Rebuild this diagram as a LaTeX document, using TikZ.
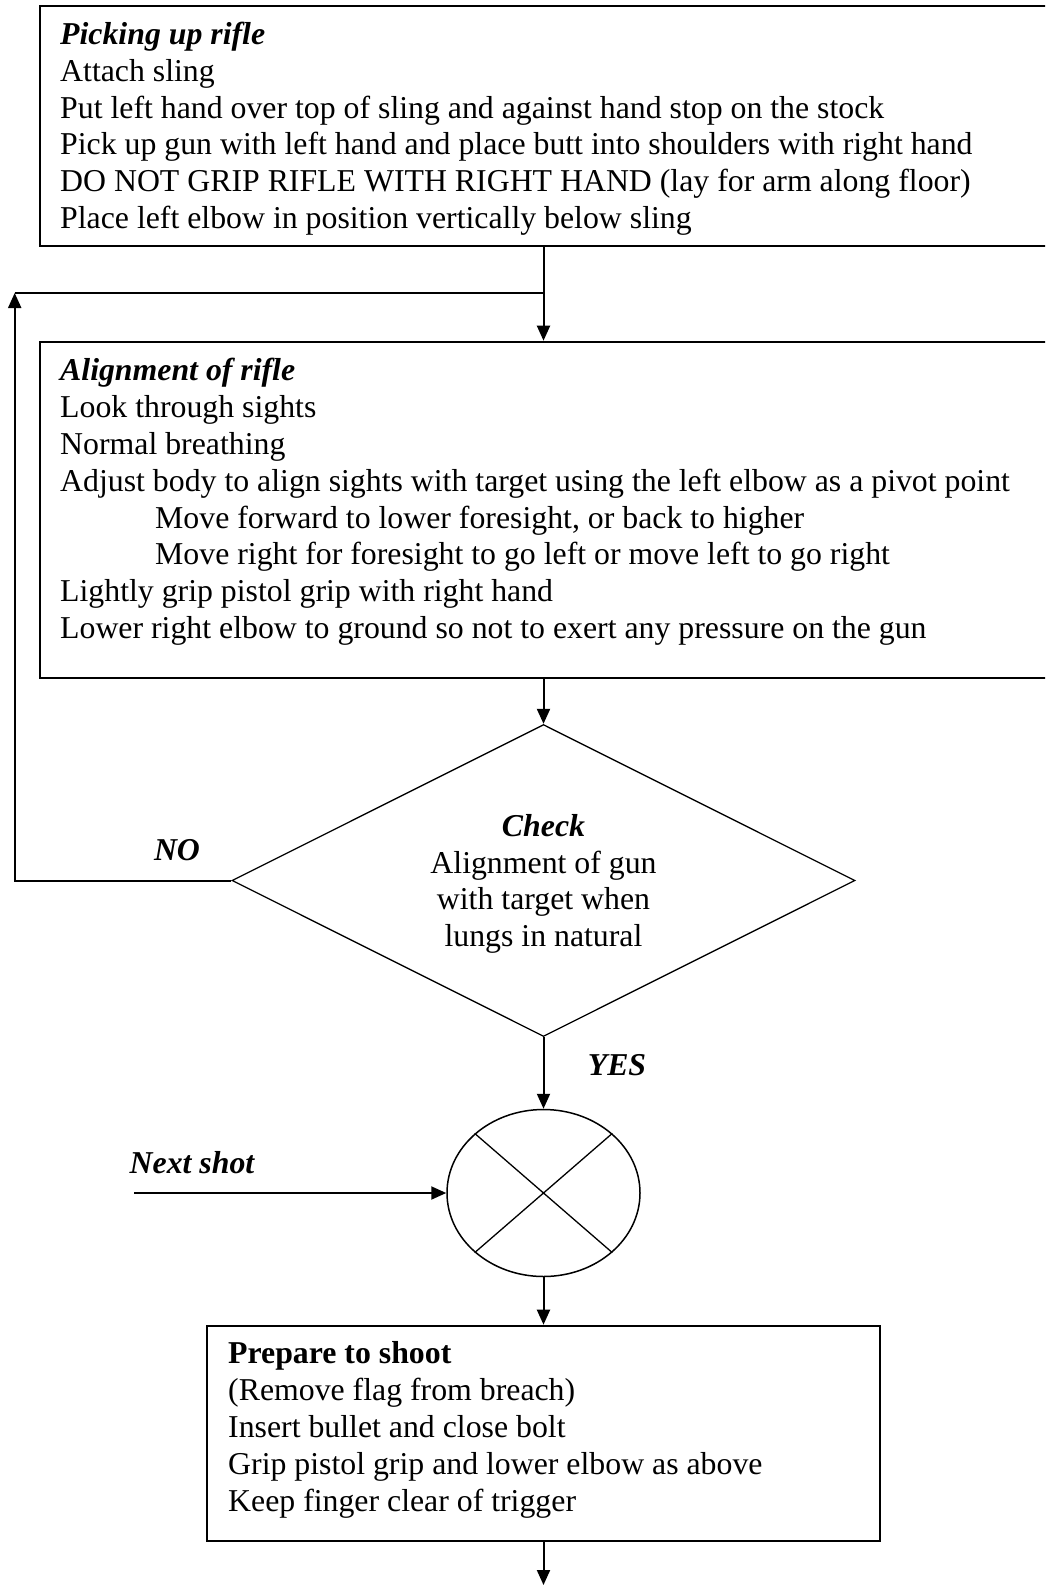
\documentclass[tikz,border=0pt]{standalone}
\usepackage{fontspec}
\setmainfont{Liberation Serif}
\usetikzlibrary{shapes.geometric,arrows.meta,positioning}

\tikzset{
  box/.style = {draw, line width=2pt, rectangle, inner sep=0pt},
  boxtext/.style = {anchor=base west, align=left, inner sep=0pt,
    font=\fontsize{31.8}{36.8}\selectfont},
  flow/.style = {line width=2pt, -{Triangle[length=15pt,width=13pt]}},
  plain/.style = {line width=2pt},
  tag/.style = {inner sep=0pt, font=\fontsize{31.8}{36.8}\selectfont\bfseries\itshape},
}

\begin{document}
\begin{tikzpicture}[x=1pt, y=-1pt]
  \clip (0,0) rectangle (1045,1589);

  % first step (text anchored on its last baseline)
  \node[box, anchor=north west, minimum width=1040, minimum height=240] (pick) at (39,5) {};
  \node[boxtext] (picktxt) at (60,228.5) {\textbf{\textit{Picking up rifle}}\\
    Attach sling\\
    Put left hand over top of sling and against hand stop on the stock\\
    Pick up gun with left hand and place butt into shoulders with right hand\\
    DO NOT GRIP RIFLE WITH RIGHT HAND (lay for arm along floor)\\
    Place left elbow in position vertically below sling};

  % alignment
  \node[box, anchor=north west, minimum width=1040, minimum height=336] (align) at (39,340.7) {};
  \node[boxtext] (aligntxt) at (60,638.5) {\textbf{\textit{Alignment of rifle}}\\
    Look through sights\\
    Normal breathing\\
    Adjust body to align sights with target using the left elbow as a pivot point\\
    \hspace*{95pt}Move forward to lower foresight, or back to higher\\
    \hspace*{95pt}Move right for foresight to go left or move left to go right\\
    Lightly grip pistol grip with right hand\\
    Lower right elbow to ground so not to exert any pressure on the gun};

  % check
  \node[draw, diamond, line width=1.3pt, inner sep=0pt, aspect=2,
    minimum width=623, minimum height=312] (chk) at (543.5,880.5) {};
  \node[anchor=base, align=center, inner sep=0pt,
    font=\fontsize{31.8}{36.8}\selectfont] (chktxt) at (543.5,946.7)
    {\textbf{\textit{Check}}\\ Alignment of gun\\ with target when\\ lungs in natural};

  % gate
  \node[draw, ellipse, line width=1.5pt, inner sep=0pt,
    minimum width=193, minimum height=167] (gate) at (543.5,1193) {};
  \draw[line width=1.3pt] (gate.north west) -- (gate.south east)
    (gate.north east) -- (gate.south west);

  % shoot
  \node[box, anchor=north west, minimum width=672.6, minimum height=215.3] (prep) at (206,1324.7) {};
  \node[boxtext] (preptxt) at (228,1511) {\textbf{Prepare to shoot}\\
    (Remove flag from breach)\\
    Insert bullet and close bolt\\
    Grip pistol grip and lower elbow as above\\
    Keep finger clear of trigger};

  % labels
  \node[tag] (no) at (177,850) {NO};
  \node[tag] (yes) at (617,1065) {YES};
  \node[tag] (next) at (192,1163) {Next shot};

  % connectors
  \coordinate (junc) at (543.5,293);
  \coordinate (loop) at (14.7,293);
  \coordinate (shotin) at (134,1193);
  \coordinate (out) at (543.5,1585);
  \draw[flow] (pick.south -| chk.north) -- (align.north -| chk.north);
  \draw[flow] (chk.west) -- (loop |- chk.west) -- (loop);
  \draw[plain] (loop) -- (junc);
  \draw[flow] (align.south -| chk.north) -- (chk.north);
  \draw[flow] (chk.south) -- (gate.north);
  \draw[flow] (shotin) -- (gate.west);
  \draw[flow] (gate.south) -- (prep.north -| gate.south);
  \draw[flow] (prep.south -| gate.south) -- (out);
\end{tikzpicture}
\end{document}
